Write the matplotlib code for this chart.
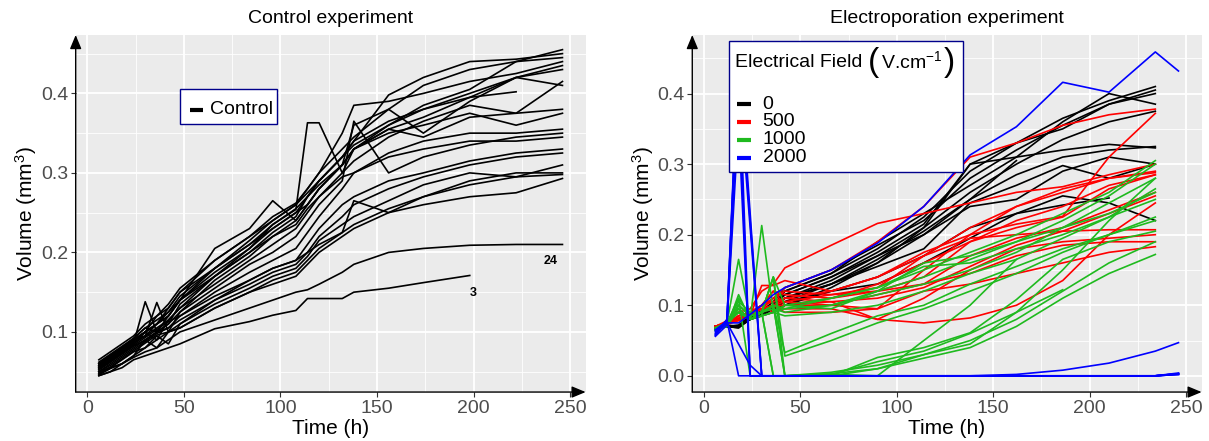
import numpy as np
import matplotlib.pyplot as plt
from matplotlib.lines import Line2D
from matplotlib.patches import Rectangle
from matplotlib.ticker import FormatStrFormatter

plt.rcParams['font.family'] = ['Liberation Sans', 'DejaVu Sans']
plt.rcParams['mathtext.fontset'] = 'custom'
plt.rcParams['mathtext.rm'] = 'Liberation Sans'
plt.rcParams['mathtext.it'] = 'Liberation Sans:italic'

nan = np.nan

# ---- control experiment (time in h, volume in mm3) ----
t_control = [6, 12, 18, 24, 30, 36, 42, 48, 66, 84, 96, 108, 114, 120, 132, 138, 156, 174, 198, 222, 246]
control_volumes = [
    [.065, .075, .085, .095, .11, .12, .13, .15, .19, .22, .245, .262, .28, .30, .33, .345, .38, .41, .43, .44, .455],
    [.062, .072, .082, .092, .105, .115, .125, .145, .18, .215, .24, .26, .275, .29, .32, .34, .398, .42, .44, .443, .45],
    [.06, .07, .08, .09, .10, .11, .125, .14, .175, .205, .235, .255, .27, .285, .31, .33, .36, .385, .405, .44, .445],
    [.058, .068, .078, .088, .10, .12, .135, .155, .19, .22, .24, .26, .28, .30, .35, .385, .39, .40, .415, .425, .44],
    [.056, .066, .076, .086, .138, .10, .11, .135, .17, .20, .225, .245, .27, .29, .32, .34, .365, .38, .40, .42, .435],
    [.055, .065, .075, .09, .095, .137, .10, .125, .165, .195, .22, .24, .26, .28, .31, .33, .355, .37, .395, .42, .43],
    [.057, .067, .077, .087, .095, .105, .115, .13, .17, .20, .22, .235, .255, .27, .30, .315, .345, .365, .385, .375, .415],
    [.06, .07, .08, .092, .105, .10, .12, .14, .17, .205, .23, .25, .26, .28, .31, .36, .38, .35, .39, .42, .41],
    [.058, .068, .078, .09, .10, .11, .13, .15, .18, .21, .235, .254, .363, .363, .30, .33, .355, .345, .37, .375, .38],
    [.055, .065, .075, .085, .095, .11, .12, .14, .205, .23, .265, .24, .26, .28, .31, .33, .35, .36, .375, .36, .375],
    [.054, .064, .074, .084, .10, .09, .115, .13, .16, .19, .21, .23, .25, .27, .295, .30, .325, .34, .35, .35, .355],
    [.052, .062, .072, .082, .09, .10, .11, .125, .155, .185, .20, .22, .24, .26, .29, .365, .30, .32, .335, .345, .35],
    [.053, .063, .073, .083, .093, .103, .113, .12, .15, .175, .19, .205, .225, .245, .28, .30, .32, .33, .34, .34, .345],
    [.05, .06, .07, .08, .09, .10, .105, .12, .145, .165, .18, .19, .21, .23, .26, .27, .29, .30, .315, .325, .33],
    [.05, .058, .068, .078, .088, .098, .105, .115, .14, .16, .175, .185, .20, .22, .245, .26, .28, .295, .31, .32, .325],
    [.048, .056, .066, .076, .086, .096, .10, .11, .135, .155, .17, .18, .195, .215, .235, .245, .265, .285, .30, .295, .31],
    [.047, .055, .065, .075, .08, .09, .10, .105, .13, .15, .165, .175, .19, .205, .225, .265, .25, .27, .29, .30, .30],
    [.046, .054, .06, .07, .08, .095, .085, .11, .14, .165, .18, .19, .20, .21, .225, .235, .255, .27, .285, .295, .298],
    [.045, .05, .06, .07, .09, .08, .10, .105, .13, .15, .16, .17, .185, .20, .22, .23, .25, .26, .27, .275, .293],
    [.06, .07, .08, .09, .10, .11, .12, .14, .18, .21, .23, .25, .27, .29, .32, .335, .36, .38, .395, .402, nan],
    [.05, .055, .06, .068, .075, .08, .09, .10, .115, .13, .14, .15, .153, .16, .175, .185, .20, .205, .209, .21, .21],
    [.045, .05, .055, .065, .07, .075, .08, .085, .104, .113, .121, .127, .142, .142, .142, .15, .155, .162, .171, nan, nan],
]
control_ids = ['24', '3']
control_id_x = [240, 200]
control_id_y = [0.189, 0.149]

# ---- electroporation experiment ----
t_electro = [6, 12, 18, 24, 30, 36, 42, 66, 90, 114, 138, 162, 186, 210, 234, 246]
field_levels = ['0', '500', '1000', '2000']
field_colors = ['black', '#FF0000', '#1FBA1F', '#0000FF']

volumes_0 = [
    [.07, .07, .07, .085, .09, .10, .12, .145, .18, .225, .29, .33, .365, .39, .41, nan],
    [.068, .07, .072, .085, .092, .105, .125, .15, .185, .22, .28, .32, .355, .385, .405, nan],
    [.068, .07, .068, .082, .09, .10, .115, .14, .175, .215, .30, .33, .35, .385, .40, nan],
    [.07, .07, .07, .08, .09, .10, .12, .145, .19, .23, .27, .31, .36, .40, .385, nan],
    [.068, .072, .07, .085, .09, .095, .11, .135, .17, .21, .26, .30, .335, .36, .375, nan],
    [.068, .07, .07, .08, .088, .095, .10, .125, .16, .21, .30, .31, .32, .328, .323, nan],
    [.07, .07, .07, .082, .09, .10, .11, .13, .165, .205, .25, .285, .31, .32, .325, nan],
    [.07, .07, .068, .08, .09, .095, .105, .13, .155, .18, .245, .27, .298, .28, .30, nan],
    [.07, .07, .07, .08, .085, .09, .10, .12, .14, .17, .21, .23, .255, .245, .22, nan],
    [.068, .07, .07, .08, .085, .095, .105, .12, .13, .16, .195, .23, .242, .252, nan, nan],
    [.07, .07, .07, .082, .09, .10, .115, .14, .17, .20, .25, .305, nan, nan, nan, nan],
    [.068, .07, .07, .085, .09, .10, .11, .13, .16, .20, .24, .25, .29, .31, .30, nan],
]
volumes_500 = [
    [.07, .075, .08, .09, .10, .11, .125, .15, .19, .24, .31, .33, .355, .37, .378, nan],
    [.07, .075, .085, .09, .10, .105, .11, .12, .14, .175, .20, .215, .226, .31, .372, nan],
    [.07, .078, .09, .095, .12, .13, .153, .185, .216, .23, .245, .26, .268, .285, .30, nan],
    [.07, .075, .08, .085, .128, .128, .135, .12, .14, .17, .21, .24, .26, .28, .29, nan],
    [.07, .073, .085, .09, .10, .12, .115, .11, .13, .16, .19, .22, .24, .27, .285, nan],
    [.07, .074, .08, .09, .095, .10, .105, .115, .12, .14, .19, .21, .225, .265, .285, nan],
    [.07, .075, .082, .088, .10, .09, .10, .11, .12, .13, .17, .195, .21, .235, .26, nan],
    [.07, .072, .08, .085, .10, .12, .10, .105, .11, .125, .155, .185, .205, .23, .255, nan],
    [.07, .075, .085, .09, .095, .10, .095, .095, .08, .075, .082, .10, .135, .20, .245, nan],
    [.07, .075, .08, .09, .095, .11, .12, .115, .125, .17, .195, .20, .205, .207, .207, nan],
    [.07, .074, .078, .085, .09, .10, .11, .105, .08, .11, .15, .18, .19, .195, .20, nan],
    [.07, .075, .08, .085, .09, .10, .10, .10, .115, .13, .145, .17, .185, .19, .19, nan],
    [.07, .075, .08, .085, .09, .10, .09, .09, .095, .12, .13, .145, .16, .175, .183, nan],
    [.07, .075, .08, .085, .095, .11, .105, .10, .095, .15, .20, .24, .265, .28, .288, nan],
]
volumes_1000 = [
    [.065, .075, .09, .08, .085, .09, .095, .11, .125, .15, .175, .20, .23, .26, .305, nan],
    [.065, .075, .10, .085, .09, .10, .095, .10, .12, .14, .165, .19, .22, .255, .30, nan],
    [.068, .075, .165, .08, .09, .095, .09, .10, .115, .13, .15, .175, .21, .245, .28, nan],
    [.068, .07, .115, .08, .213, .09, .085, .09, .10, .12, .145, .165, .195, .225, .265, nan],
    [.065, .072, .11, .085, .09, .14, .10, .095, .12, .16, .17, .19, .21, .23, .26, nan],
    [.065, .075, .095, .08, .085, .09, .10, .11, .125, .155, .16, .18, .20, .225, .25, nan],
    [.065, .075, .09, .08, .09, .10, .033, .06, .085, .10, .13, .155, .18, .20, .225, nan],
    [.065, .07, .10, .085, .09, .14, .028, .05, .075, .095, .12, .145, .175, .20, .22, nan],
    [.068, .075, .11, .0, .0, .0, .0, .0, .026, .04, .061, .108, .165, .19, .205, nan],
    [.068, .075, .09, .08, .09, .0, .0, .005, .015, .03, .05, .08, .12, .16, .19, nan],
    [.065, .07, .10, .085, .09, .10, .0, .003, .01, .025, .04, .07, .11, .145, .172, nan],
    [.068, .075, .105, .09, .09, .14, .0, .002, .02, .035, .06, .09, .122, nan, nan, nan],
    [.068, .072, .10, .085, .09, .10, .0, .002, .0, .05, .10, .165, nan, nan, nan, nan],
    [.065, .07, .095, .08, .09, .0, .0, .0, .01, .03, .045, .09, .15, .22, .28, nan],
]
volumes_2000 = [
    [.065, .075, .075, .087, .10, .115, .125, .15, .188, .24, .313, .353, .416, .402, .459, .432],
    [.058, .08, .44, .22, .0, .0, .0, .0, .0, .0, .0, .0, .0, .0, .0, .003],
    [.062, .078, .40, .0, .0, .0, .0, .0, .0, .0, .0, .0, .0, .0, .0, .002],
    [.065, .078, .0, .0, .0, .0, .0, .0, .0, .0, .0, .002, .008, .018, .035, .047],
    [.06, .075, .36, .0, .0, .0, .0, .0, .0, .0, .0, .0, .0, .0, .0, .004],
    [.056, .072, .42, .21, .0, .0, .0, .0, .0, .0, .0, .0, .0, .0, .0, .003],
    [.063, .075, .045, .015, .0, .0, .0, .0, .0, .0, .0, .0, .0, .0, .0, .002],
    [.059, .08, .46, .23, .0, .0, .0, .0, .0, .0, .0, .0, .0, .0, .0, .003],
    [.057, .078, .45, .0, .0, .0, .0, .0, .0, .0, .0, .0, .0, .0, .0, .002],
]
volumes_by_field = [volumes_0, volumes_500, volumes_1000, volumes_2000]


def style_axes(ax, ylim, yticks, yminor):
    ax.set_facecolor('#EBEBEB')
    ax.set_xlim(-6, 258)
    ax.set_ylim(ylim)
    ax.set_xticks([0, 50, 100, 150, 200, 250])
    ax.set_xticks([25, 75, 125, 175, 225], minor=True)
    ax.set_yticks(yticks)
    ax.set_yticks(yminor, minor=True)
    ax.yaxis.set_major_formatter(FormatStrFormatter('%.1f'))
    ax.grid(which='major', color='white', lw=1.3)
    ax.grid(which='minor', color='white', lw=0.6)
    ax.set_axisbelow(True)
    for s in ax.spines.values():
        s.set_visible(False)
    ax.tick_params(which='major', length=3.5, width=0.8, color='#333333',
                   labelsize=14, labelcolor='#4D4D4D', pad=2)
    ax.tick_params(which='minor', length=0)
    arrow = dict(arrowstyle='-|>,head_length=0.6,head_width=0.25', color='black',
                 lw=1.0, shrinkA=0, shrinkB=0, mutation_scale=14)
    ax.annotate('', xy=(0, 1), xytext=(0, 0), xycoords='axes fraction',
                textcoords='axes fraction', arrowprops=arrow, annotation_clip=False)
    ax.annotate('', xy=(1, 0), xytext=(0, 0), xycoords='axes fraction',
                textcoords='axes fraction', arrowprops=arrow, annotation_clip=False)
    ax.set_xlabel('Time (h)', fontsize=15, labelpad=2)
    ax.set_ylabel('Volume (mm$^3$)', fontsize=15, labelpad=1)


fig = plt.figure(figsize=(12.09, 4.41), dpi=100)

# left panel
ax1 = fig.add_axes([0.0626, 0.111, 0.4218, 0.8096])
style_axes(ax1, (0.0244, 0.4734), [0.1, 0.2, 0.3, 0.4], [0.05, 0.15, 0.25, 0.35, 0.45])
for v in control_volumes:
    ax1.plot(t_control, v, color='black', lw=1.2)
for lab, x, y in zip(control_ids, control_id_x, control_id_y):
    ax1.text(x, y, lab, fontsize=9, fontweight='bold', ha='center', va='center')
ax1.set_title('Control experiment', fontsize=14, pad=9)

ax1.add_patch(Rectangle((0.205, 0.750), 0.189, 0.098, transform=ax1.transAxes,
                        facecolor='white', edgecolor='#00008B', lw=1, zorder=5))
ax1.add_line(Line2D([0.224, 0.250], [0.79, 0.79], transform=ax1.transAxes,
                    color='black', lw=3, solid_capstyle='butt', zorder=6))
ax1.text(0.264, 0.79, 'Control', transform=ax1.transAxes, fontsize=14,
         ha='left', va='center', zorder=6)

# right panel
ax2 = fig.add_axes([0.5726, 0.111, 0.4213, 0.8096])
style_axes(ax2, (-0.023, 0.483), [0.0, 0.1, 0.2, 0.3, 0.4], [0.05, 0.15, 0.25, 0.35, 0.45])
for vols, col in zip(volumes_by_field, field_colors):
    for v in vols:
        ax2.plot(t_electro, v, color=col, lw=1.2)
ax2.set_title('Electroporation experiment', fontsize=14, pad=9)

ax2.add_patch(Rectangle((0.0724, 0.616), 0.4586, 0.366, transform=ax2.transAxes,
                        facecolor='white', edgecolor='#00008B', lw=1, zorder=5))
# legend title with tall brackets
t1 = ax2.text(0.0845, 0.922, 'Electrical Field', transform=ax2.transAxes,
              fontsize=14, ha='left', va='center', zorder=6)
t2 = ax2.annotate('(', xy=(1, 0.5), xycoords=t1, xytext=(4, 0), textcoords='offset points',
                  fontsize=24, fontweight='light', ha='left', va='center', zorder=6)
t3 = ax2.annotate('V.cm$^{\\mathrm{-1}}$', xy=(1, 0.5), xycoords=t2, xytext=(1, 1),
                  textcoords='offset points', fontsize=14, ha='left', va='center', zorder=6)
ax2.annotate(')', xy=(1, 0.5), xycoords=t3, xytext=(1, -1), textcoords='offset points',
             fontsize=24, fontweight='light', ha='left', va='center', zorder=6)
legend_y = [0.806, 0.757, 0.706, 0.656]
for lab, col, y in zip(field_levels, field_colors, legend_y):
    ax2.add_line(Line2D([0.088, 0.115], [y, y], transform=ax2.transAxes,
                        color=col, lw=3, solid_capstyle='butt', zorder=6))
    ax2.text(0.138, y, lab, transform=ax2.transAxes, fontsize=14,
             ha='left', va='center', zorder=6)

fig.savefig('out.png', dpi=100)
